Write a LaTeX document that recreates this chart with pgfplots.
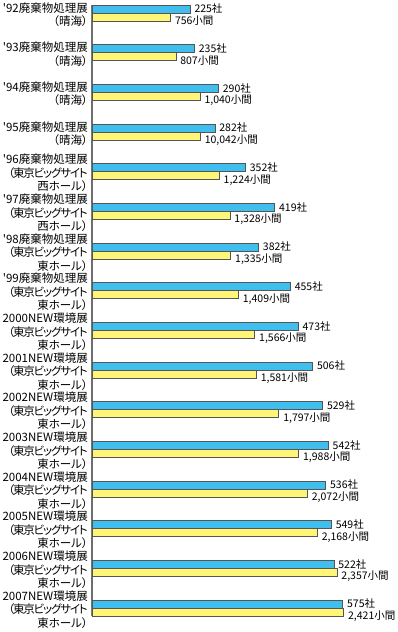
\documentclass[border=0pt]{standalone}
\usepackage{fontspec}
\setmainfont[RawFeature=+palt]{Noto Sans CJK JP}
\usepackage{pgfplots}
\pgfplotsset{compat=1.18}
\definecolor{barblue}{HTML}{40BFEF}
\definecolor{baryellow}{HTML}{FFF576}
\definecolor{edge}{HTML}{555555}
\definecolor{axisgray}{HTML}{6E6E6E}
\newcommand\tb{{\addfontfeature{LetterSpace=-10}（東京ビッグサイト}}
\newcommand\q{\textquotesingle}
\begin{document}
\begin{tikzpicture}
\useasboundingbox (-92pt,-16pt) rectangle (306pt,616pt);
\begin{axis}[
  at={(0pt,0pt)}, anchor=south west,
  scale only axis, width=300pt, height=611pt,
  xmin=0, xmax=688,
  ymin=-0.2017, ymax=15.2017, y dir=reverse,
  xbar, bar width=8pt,
  axis x line=none, axis y line*=left,
  axis line style={draw=axisgray, line width=1.2pt},
  ytick={0,...,15},
  yticklabels={
    {\q92廃棄物処理展\\（晴海）},
    {\q93廃棄物処理展\\（晴海）},
    {\q94廃棄物処理展\\（晴海）},
    {\q95廃棄物処理展\\（晴海）},
    {\q96廃棄物処理展\\\tb\\西ホール）},
    {\q97廃棄物処理展\\\tb\\西ホール）},
    {\q98廃棄物処理展\\\tb\\東ホール）},
    {\q99廃棄物処理展\\\tb\\東ホール）},
    {2000NEW環境展\\\tb\\東ホール）},
    {2001NEW環境展\\\tb\\東ホール）},
    {2002NEW環境展\\\tb\\東ホール）},
    {2003NEW環境展\\\tb\\東ホール）},
    {2004NEW環境展\\\tb\\東ホール）},
    {2005NEW環境展\\\tb\\東ホール）},
    {2006NEW環境展\\\tb\\東ホール）},
    {2007NEW環境展\\\tb\\東ホール）}},
  major tick length=0pt,
  yticklabel style={align=right, font=\fontsize{11.5}{13.5}\selectfont, inner sep=0pt, xshift=-4pt, yshift=-1.5pt},
  nodes near coords, point meta=explicit symbolic,
  nodes near coords style={anchor=west, font=\fontsize{10.5}{12}\selectfont, inner sep=0pt, xshift=4pt},
]
\addplot[fill=barblue, draw=edge, line width=0.8pt, bar shift=4pt] coordinates {
  (225,0) [225社]
  (235,1) [235社]
  (290,2) [290社]
  (282,3) [282社]
  (352,4) [352社]
  (419,5) [419社]
  (382,6) [382社]
  (455,7) [455社]
  (473,8) [473社]
  (506,9) [506社]
  (529,10) [529社]
  (542,11) [542社]
  (536,12) [536社]
  (549,13) [549社]
  (555,14) [522社]
  (575,15) [575社]
};
\end{axis}
\begin{axis}[
  at={(0pt,0pt)}, anchor=south west,
  scale only axis, width=300pt, height=611pt,
  xmin=0, xmax=2885,
  ymin=-0.2017, ymax=15.2017, y dir=reverse,
  xbar, bar width=8pt,
  hide axis,
  nodes near coords, point meta=explicit symbolic,
  nodes near coords style={anchor=west, font=\fontsize{10.5}{12}\selectfont, inner sep=0pt, xshift=4pt, yshift=-4pt},
]
\addplot[fill=baryellow, draw=edge, line width=0.8pt, bar shift=-4pt] coordinates {
  (756,0) [756小間]
  (807,1) [807小間]
  (1040,2) [{1,040小間}]
  (1042,3) [{10,042小間}]
  (1224,4) [{1,224小間}]
  (1328,5) [{1,328小間}]
  (1335,6) [{1,335小間}]
  (1409,7) [{1,409小間}]
  (1566,8) [{1,566小間}]
  (1581,9) [{1,581小間}]
  (1797,10) [{1,797小間}]
  (1988,11) [{1,988小間}]
  (2072,12) [{2,072小間}]
  (2168,13) [{2,168小間}]
  (2357,14) [{2,357小間}]
  (2421,15) [{2,421小間}]
};
\end{axis}
\end{tikzpicture}
\end{document}
